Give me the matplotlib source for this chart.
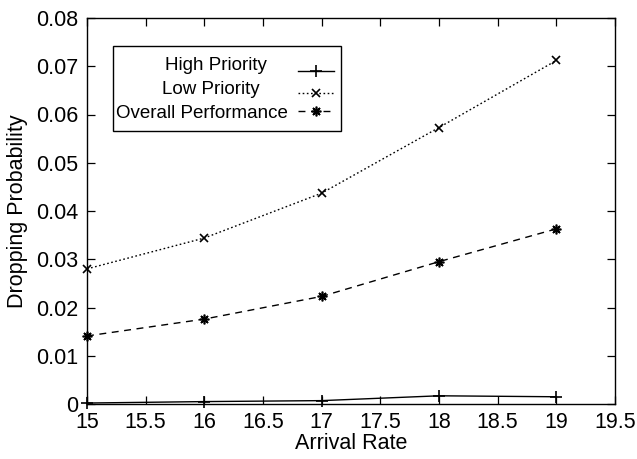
import matplotlib
matplotlib.use("Agg")
import matplotlib.pyplot as plt
from matplotlib.lines import Line2D
from matplotlib.patches import Rectangle

plt.rcParams['font.family'] = ['Liberation Sans', 'DejaVu Sans']

arrival_rate = [15, 16, 17, 18, 19]
high_priority = [0.0002, 0.0005, 0.0007, 0.0017, 0.0015]
low_priority = [0.0280, 0.0344, 0.0437, 0.0573, 0.0712]
overall = [0.0141, 0.0176, 0.0223, 0.0295, 0.0363]

x_ticks = [15, 15.5, 16, 16.5, 17, 17.5, 18, 18.5, 19, 19.5]
y_ticks = [0, 0.01, 0.02, 0.03, 0.04, 0.05, 0.06, 0.07, 0.08]
legend_labels = ["High Priority", "Low Priority", "Overall Performance"]

W, H = 637, 459
fig = plt.figure(figsize=(W / 100, H / 100), dpi=100)
L, R, T, B = 87, 615, 18, 404
ax = fig.add_axes([L / W, 1 - B / H, (R - L) / W, (B - T) / H])

asterisk = (8, 2, 0)
styles = [
    dict(linestyle='-', marker='+', markersize=8),
    dict(linestyle=(0, (1.2, 1.8)), marker='x', markersize=6),
    dict(linestyle=(0, (5, 4)), marker=asterisk, markersize=7),
]
series = [high_priority, low_priority, overall]
for vals, st in zip(series, styles):
    ax.plot(arrival_rate, vals, color='black', linewidth=1.0,
            markeredgewidth=1.2, clip_on=False, **st)

fs = 15.5
ax.set_xlim(15, 19.5)
ax.set_ylim(0, 0.08)
ax.set_xticks(x_ticks)
ax.set_xticklabels([f"{v:g}" for v in x_ticks])
ax.set_yticks(y_ticks)
ax.set_yticklabels([f"{v:g}" for v in y_ticks])
ax.tick_params(direction='in', length=6, width=0.9, labelsize=fs,
               top=True, right=True)
ax.tick_params(axis='x', pad=6)
ax.tick_params(axis='y', pad=6)
for sp in ax.spines.values():
    sp.set_linewidth(1.0)
ax.set_xlabel("Arrival Rate", fontsize=fs, labelpad=0)
ax.set_ylabel("Dropping Probability", fontsize=fs, labelpad=6)


def px(x, y):
    return (x - L) / (R - L), (B - y) / (B - T)


# legend box drawn in axes coordinates
x0, y0 = px(113, 131)
x1, y1 = px(341, 46)
ax.add_patch(Rectangle((x0, y0), x1 - x0, y1 - y0, transform=ax.transAxes,
                       facecolor='white', edgecolor='black', linewidth=1.0,
                       zorder=5))
text_left = [165, 162, 116]
text_y = [66, 90, 114]
line_y = [71, 93, 111]
for lab, tx, ty, ly, st in zip(legend_labels, text_left, text_y, line_y, styles):
    ax.text(*px(tx, ty), lab, transform=ax.transAxes, ha='left', va='center',
            fontsize=13.5, zorder=6)
    xa, ya = px(298, ly)
    xb, _ = px(334, ly)
    ax.add_line(Line2D([xa, xb], [ya, ya], transform=ax.transAxes,
                       color='black', linewidth=1.0, linestyle=st['linestyle'],
                       zorder=6))
    ax.add_line(Line2D([(xa + xb) / 2], [ya], transform=ax.transAxes,
                       color='black', marker=st['marker'],
                       markersize=st['markersize'], markeredgewidth=1.2,
                       linestyle='none', zorder=6))

fig.savefig("out.png", dpi=100)
